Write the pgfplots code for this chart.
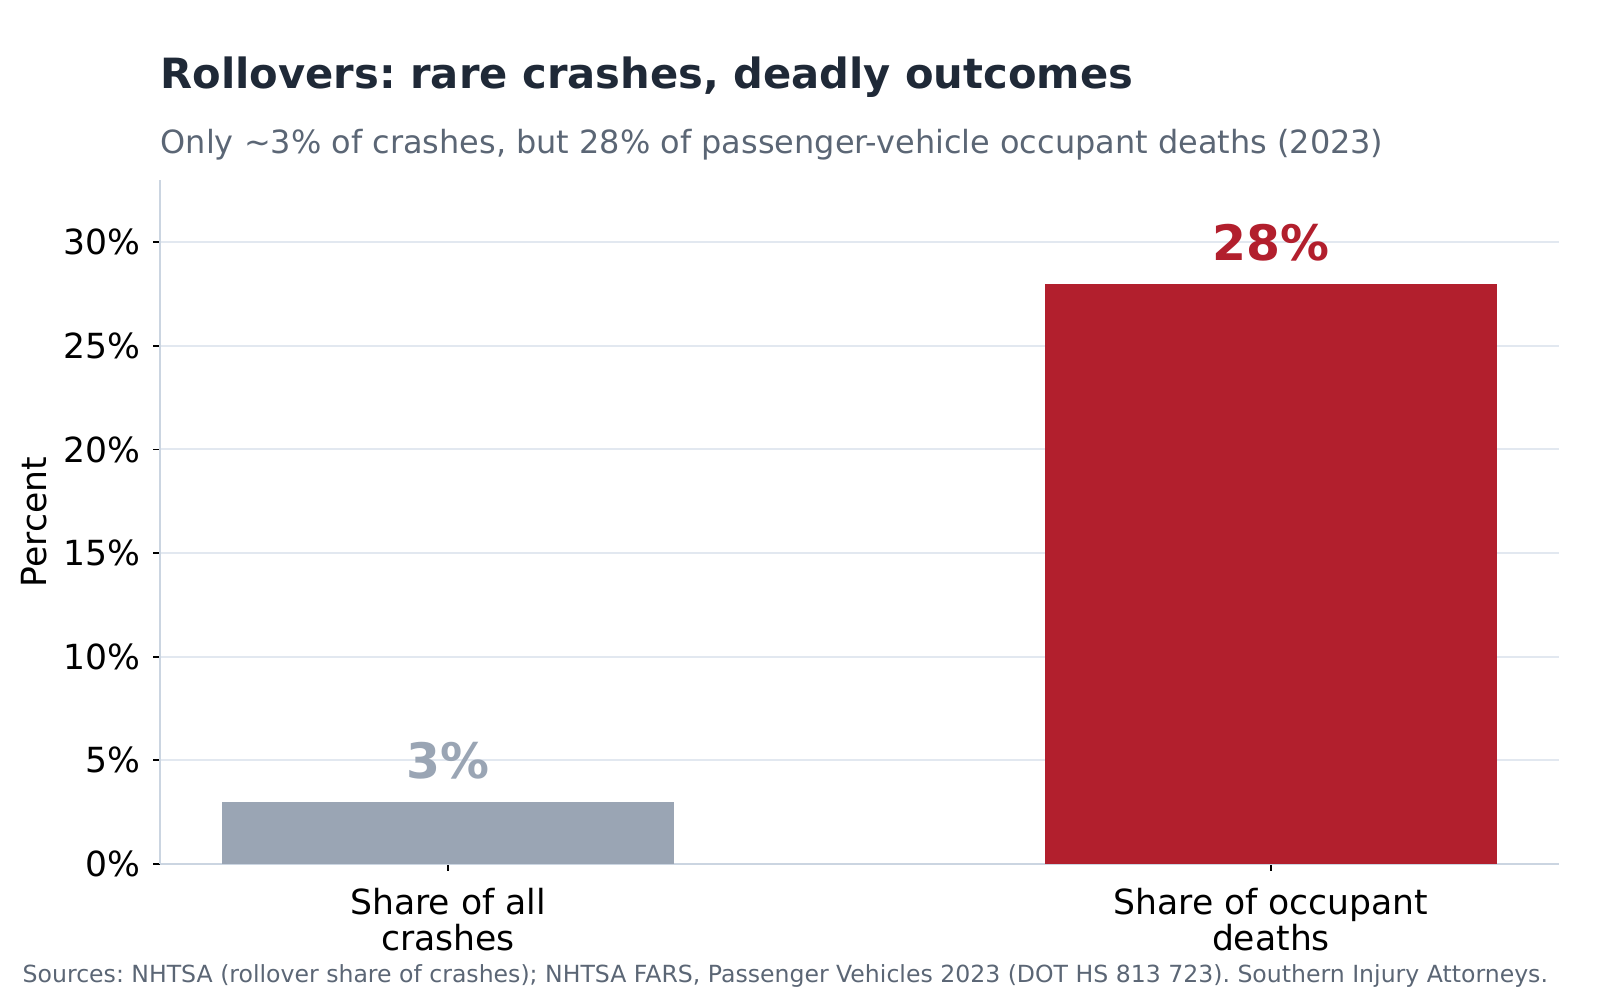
\documentclass[border=0pt]{standalone}
\usepackage{fontspec}
\setmainfont{DejaVu Sans}
\usepackage{pgfplots}
\pgfplotsset{compat=1.18}
\definecolor{titlecol}{HTML}{1F2937}
\definecolor{subcol}{HTML}{5B6675}
\definecolor{barGrey}{HTML}{9AA5B4}
\definecolor{barRed}{HTML}{B21F2D}
\definecolor{gridcol}{HTML}{E2E8F0}
\definecolor{spinecol}{HTML}{CBD5E1}
\frenchspacing

\begin{document}
\begin{tikzpicture}
\useasboundingbox (0,0) rectangle (16,10);
\begin{axis}[
  at={(1.6cm,1.36cm)}, anchor=south west,
  scale only axis, width=13.99cm, height=6.84cm,
  xmin=-0.35, xmax=1.35, ymin=0, ymax=33,
  axis x line*=bottom, axis y line*=left,
  axis line style={spinecol, line width=0.6pt, -},
  ybar, bar width=0.55, bar shift=0pt,
  tick align=outside, major tick length=0.07cm,
  tick style={black, line width=0.5pt},
  ticklabel style={font=\fontsize{9.84}{10.3}\selectfont},
  /pgf/number format/assume math mode=true,
  ytick={0,5,...,30},
  yticklabel={\pgfmathprintnumber{\tick}\%},
  xtick={0,1},
  xticklabels={{Share of all\\crashes},{Share of occupant\\deaths}},
  xticklabel style={align=center, yshift=-0.05cm},
  ymajorgrids, grid style={gridcol, line width=0.6pt},
  ylabel={Percent},
  ylabel style={at={(axis description cs:-0.09,0.5)}, anchor=center,
                font=\fontsize{9.84}{11}\selectfont},
  nodes near coords={\pgfmathprintnumber{\pgfplotspointmeta}\%},
  every node near coord/.append style={anchor=base, yshift=0.23cm,
     font=\bfseries\fontsize{13.9}{15}\selectfont},
]
% share of all crashes
\addplot[fill=barGrey, draw=none,
  every node near coord/.append style={text=barGrey}]
  coordinates {(0,3)};
% share of occupant deaths
\addplot[fill=barRed, draw=none,
  every node near coord/.append style={text=barRed}]
  coordinates {(1,28)};
\end{axis}
\node[anchor=base west, inner sep=0, text=titlecol,
      font=\bfseries\fontsize{11.85}{14}\selectfont] at (1.6,9.11)
  {Rollovers: rare crashes, deadly outcomes};
\node[anchor=base west, inner sep=0, text=subcol,
      font=\fontsize{9.09}{11}\selectfont] at (1.6,8.46)
  {Only \textasciitilde3\% of crashes, but 28\% of passenger-vehicle occupant deaths (2023)};
\node[anchor=base west, inner sep=0, text=subcol,
      font=\fontsize{6.71}{8}\selectfont] at (0.22,0.17)
  {Sources: NHTSA (rollover share of crashes); NHTSA FARS, Passenger Vehicles 2023 (DOT HS 813 723). Southern Injury Attorneys.};
\end{tikzpicture}
\end{document}
